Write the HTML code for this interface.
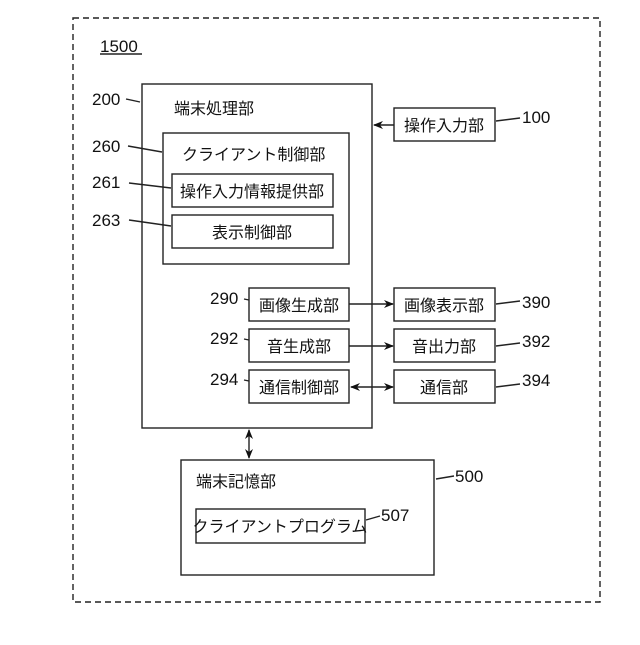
<!DOCTYPE html>
<html><head><meta charset="utf-8"><style>
body{margin:0;background:#fff;}
svg text{font-family:"Liberation Sans","Noto Sans CJK JP",sans-serif;font-size:16px;fill:#111;}
svg text.n{font-size:17px;}
</style></head><body>
<svg width="640" height="640" xmlns="http://www.w3.org/2000/svg">
<defs><marker id="a" markerWidth="10" markerHeight="8" refX="9" refY="4" orient="auto-start-reverse" markerUnits="userSpaceOnUse"><path d="M0,0 L10,4 L0,8 L3,4 z" fill="#111"/></marker></defs>
<g fill="none" stroke="#222" stroke-width="1.4">
<rect x="73" y="18" width="527" height="584" stroke-dasharray="6,4"/>
<rect x="142" y="84" width="230" height="344"/>
<rect x="163" y="133" width="186" height="131"/>
<rect x="172" y="174" width="161" height="33"/>
<rect x="172" y="215" width="161" height="33"/>
<rect x="394" y="108" width="101" height="33"/>
<rect x="249" y="288" width="100" height="33"/>
<rect x="249" y="329" width="100" height="33"/>
<rect x="249" y="370" width="100" height="33"/>
<rect x="394" y="288" width="101" height="33"/>
<rect x="394" y="329" width="101" height="33"/>
<rect x="394" y="370" width="101" height="33"/>
<rect x="181" y="460" width="253" height="115"/>
<rect x="196" y="509" width="169" height="34"/>
<line x1="394" y1="125" x2="374" y2="125" marker-end="url(#a)"/>
<line x1="349" y1="304" x2="393" y2="304" marker-end="url(#a)"/>
<line x1="349" y1="346" x2="393" y2="346" marker-end="url(#a)"/>
<line x1="351" y1="387" x2="393" y2="387" marker-start="url(#a)" marker-end="url(#a)"/>
<line x1="249" y1="430" x2="249" y2="458" marker-start="url(#a)" marker-end="url(#a)"/>
<line x1="100" y1="54" x2="142" y2="54"/>
<path d="M126,99 L140,102 M128,146 L162,152 M129,183 L171,188 M129,220 L171,226 M244,299 L249,300 M244,339 L249,340 M244,380 L249,381 M496,121 L520,118 M496,304 L520,301 M496,346 L520,343 M496,387 L520,384 M436,479 L454,476 M366,520 L380,516"/>
</g>
<text class="n" x="100" y="52">1500</text>
<text class="n" x="92" y="105">200</text>
<text class="n" x="92" y="152">260</text>
<text class="n" x="92" y="188">261</text>
<text class="n" x="92" y="226">263</text>
<text class="n" x="210" y="304">290</text>
<text class="n" x="210" y="344">292</text>
<text class="n" x="210" y="385">294</text>
<text class="n" x="522" y="123">100</text>
<text class="n" x="522" y="308">390</text>
<text class="n" x="522" y="347">392</text>
<text class="n" x="522" y="386">394</text>
<text class="n" x="455" y="482">500</text>
<text class="n" x="381" y="521">507</text>
<text x="174" y="114">端末処理部</text>
<text x="182" y="160">クライアント制御部</text>
<text x="252" y="197" text-anchor="middle">操作入力情報提供部</text>
<text x="252" y="238" text-anchor="middle">表示制御部</text>
<text x="444" y="131" text-anchor="middle">操作入力部</text>
<text x="299" y="311" text-anchor="middle">画像生成部</text>
<text x="299" y="352" text-anchor="middle">音生成部</text>
<text x="299" y="393" text-anchor="middle">通信制御部</text>
<text x="444" y="311" text-anchor="middle">画像表示部</text>
<text x="444" y="352" text-anchor="middle">音出力部</text>
<text x="444" y="393" text-anchor="middle">通信部</text>
<text x="196" y="487">端末記憶部</text>
<text x="280" y="532" text-anchor="middle">クライアントプログラム</text>
</svg>
</body></html>
